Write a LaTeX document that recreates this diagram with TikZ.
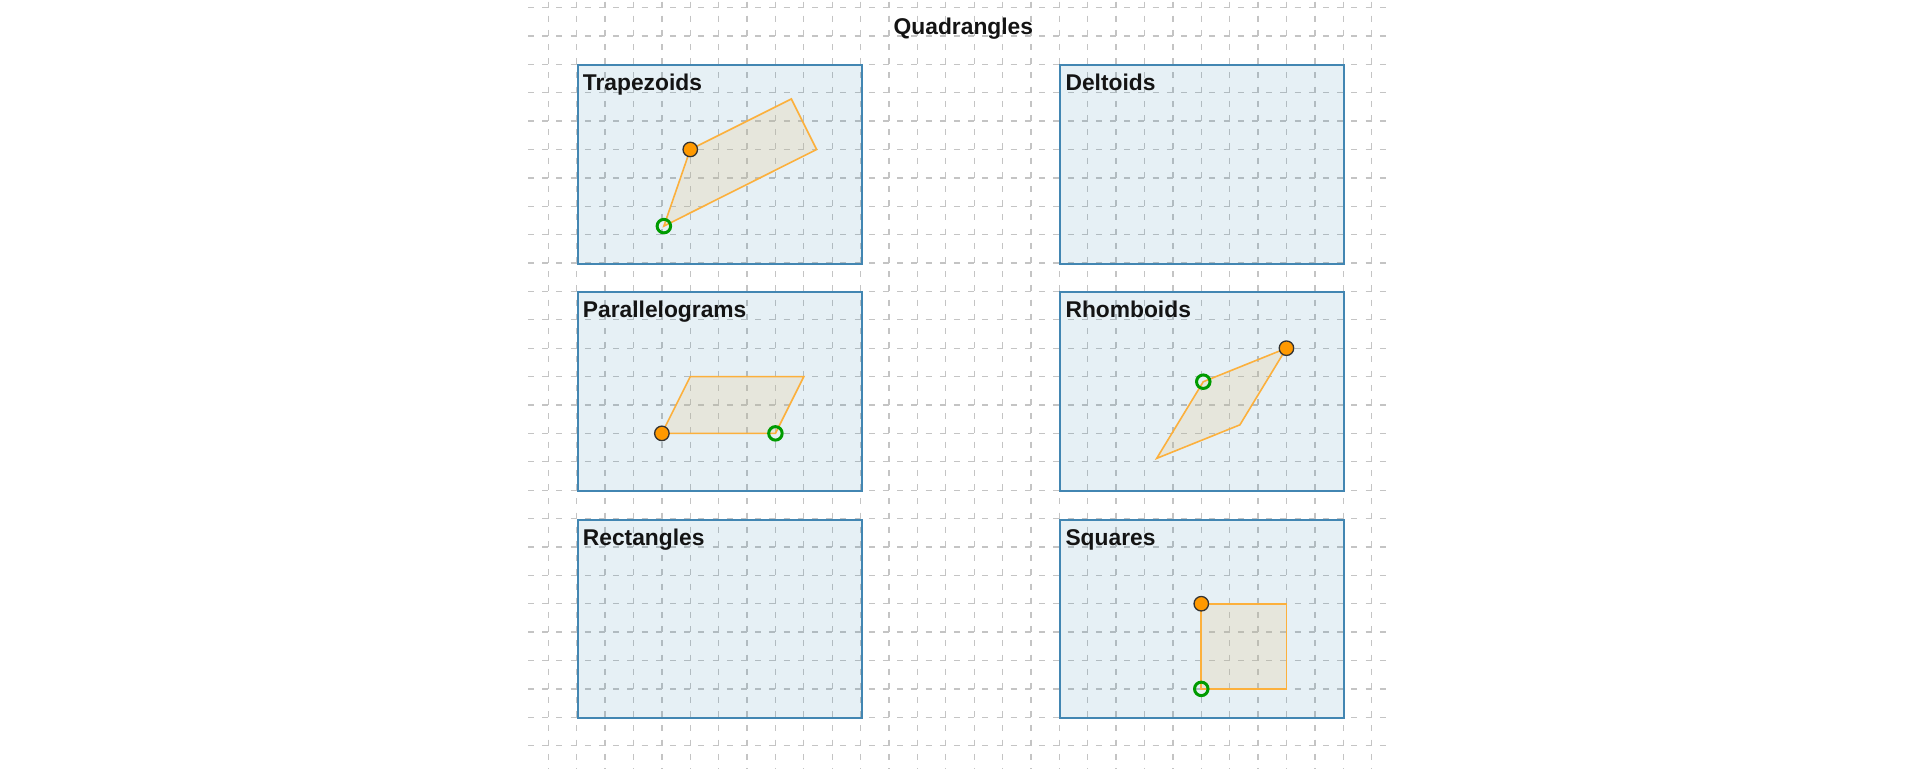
\documentclass[tikz,border=0pt]{standalone}
\usepackage{fontspec}
\setmainfont{Liberation Sans}
\definecolor{gridgrey}{RGB}{196,196,196}
\definecolor{panelblue}{RGB}{66,134,178}
\definecolor{panelfillc}{RGB}{16,115,158}
\definecolor{quadorange}{RGB}{252,176,60}
\definecolor{quadfillc}{RGB}{231,201,149}
\definecolor{dotorange}{RGB}{255,153,0}
\definecolor{dotstroke}{RGB}{51,51,51}
\definecolor{ringgreen}{RGB}{0,155,0}
\definecolor{textblack}{RGB}{20,20,20}
\begin{document}
\begin{tikzpicture}[x=1pt,y=-1pt,
  gridline/.style={draw=gridgrey,line width=1.3pt,dash pattern=on 6pt off 8.195pt},
  panel/.style={draw=panelblue,line width=2pt,fill=panelfillc,fill opacity=0.1,
    rectangle,inner sep=0pt,minimum width=283.9pt,minimum height=198.73pt,anchor=north west},
  paneltitle/.style={font=\bfseries\fontsize{22.8}{27}\selectfont,text=textblack,anchor=base west,inner sep=0pt},
  titletext/.style={font=\bfseries\fontsize{22.8}{27}\selectfont,text=textblack,anchor=base,inner sep=0pt},
  quad/.style={draw=quadorange,line width=1.6pt,fill=quadfillc,fill opacity=0.25,line join=miter},
  vdot/.style={circle,inner sep=0pt,minimum size=14.5pt,fill=dotorange,draw=dotstroke,line width=1.3pt},
  vring/.style={circle,inner sep=0pt,minimum size=13.5pt,draw=ringgreen,line width=3pt}]
\useasboundingbox (0,0) rectangle (1920,769);
\fill[white] (0,0) rectangle (1920,769);
% background grid
\foreach \j in {-2,...,24}
  \draw[gridline] (528.1,{64.3+28.39*\j}) -- (1392,{64.3+28.39*\j});
\foreach \k in {-1,...,28}
  \draw[gridline] ({576.7+28.39*\k},1.52) -- ({576.7+28.39*\k},769);
\begin{scope}[shift={(576.7pt,-64.3pt)},x=28.39pt,y=-28.39pt]
  % title
  \node[titletext] (title) at (13.62,-1.057) {Quadrangles};
  % panels
  \node[panel] (pTrap) at (0,0) {};
  \node[panel] (pDelt) at (17,0) {};
  \node[panel] (pPara) at (0,8) {};
  \node[panel] (pRhom) at (17,8) {};
  \node[panel] (pRect) at (0,16) {};
  \node[panel] (pSqua) at (17,16) {};
  \node[paneltitle] (lTrap) at ([shift={(6pt,-26.5pt)}]pTrap.north west) {Trapezoids};
  \node[paneltitle] (lDelt) at ([shift={(6pt,-26.5pt)}]pDelt.north west) {Deltoids};
  \node[paneltitle] (lPara) at ([shift={(6pt,-26.5pt)}]pPara.north west) {Parallelograms};
  \node[paneltitle] (lRhom) at ([shift={(6pt,-26.5pt)}]pRhom.north west) {Rhomboids};
  \node[paneltitle] (lRect) at ([shift={(6pt,-26.5pt)}]pRect.north west) {Rectangles};
  \node[paneltitle] (lSqua) at ([shift={(6pt,-26.5pt)}]pSqua.north west) {Squares};
  % trapezoid
  \coordinate (tA) at (4,3);
  \coordinate (tB) at (7.56,1.22);
  \coordinate (tC) at (8.45,3);
  \coordinate (tD) at (3.07,5.7);
  \draw[quad] (tA) -- (tB) -- (tC) -- (tD) -- cycle;
  \node[vdot] (tAdot) at (tA) {};
  \node[vring] (tDring) at (tD) {};
  % parallelogram
  \coordinate (gA) at (3,13);
  \coordinate (gB) at (7,13);
  \coordinate (gC) at (8,11);
  \coordinate (gD) at (4,11);
  \draw[quad] (gA) -- (gB) -- (gC) -- (gD) -- cycle;
  \node[vdot] (gAdot) at (gA) {};
  \node[vring] (gBring) at (gB) {};
  % rhomboid
  \coordinate (rA) at (25,10);
  \coordinate (rB) at (22.07,11.18);
  \coordinate (rC) at (20.43,13.88);
  \coordinate (rD) at (23.36,12.7);
  \draw[quad] (rA) -- (rB) -- (rC) -- (rD) -- cycle;
  \node[vdot] (rAdot) at (rA) {};
  \node[vring] (rBring) at (rB) {};
  % square
  \coordinate (sA) at (22,19);
  \coordinate (sB) at (22,22);
  \coordinate (sC) at (25,22);
  \coordinate (sD) at (25,19);
  \draw[quad] (sA) -- (sB) -- (sC) -- (sD) -- cycle;
  \node[vdot] (sAdot) at (sA) {};
  \node[vring] (sBring) at (sB) {};
\end{scope}
\end{tikzpicture}
\end{document}
